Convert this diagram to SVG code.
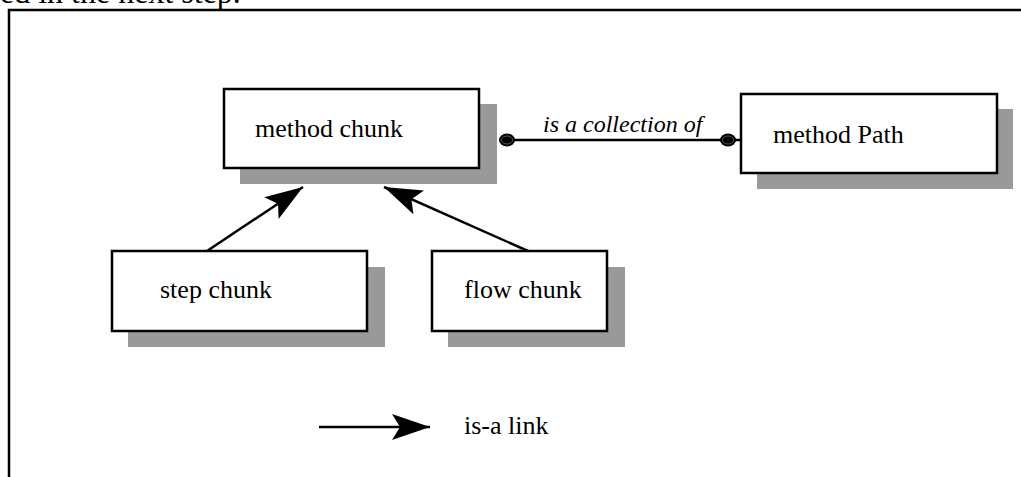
<svg xmlns="http://www.w3.org/2000/svg" width="1021" height="477" viewBox="0 0 1021 477">
  <style>
    .box { fill: #ffffff; stroke: #000000; stroke-width: 2.5; }
    .shadow { fill: #999999; }
    .lbl { font-family: "Liberation Serif", "Times New Roman", serif; font-size: 26px; fill: #000000; }
    .rel { font-family: "Liberation Serif", "Times New Roman", serif; font-size: 24px; font-style: italic; fill: #000000; }
    .body { font-family: "Liberation Serif", "Times New Roman", serif; font-size: 32px; fill: #000000; }
    .edge { stroke: #000000; stroke-width: 2.5; fill: none; }
    .frame { stroke: #000000; stroke-width: 2.5; fill: none; }
  </style>
  <defs>
    <marker id="isa" markerUnits="userSpaceOnUse" markerWidth="40" markerHeight="28" refX="38" refY="13" orient="auto">
      <path d="M0,0 L38,13 L0,26 L8,13 Z" fill="#000000"/>
    </marker>
  </defs>

  <rect width="1021" height="477" fill="#ffffff"/>

  <!-- running text above the figure -->
  <text class="body" x="0" y="3">ed in the next step.</text>

  <!-- figure frame -->
  <path class="frame" d="M9,477 L9,10 L1021,10"/>

  <g id="method-chunk">
    <rect class="shadow" x="240" y="104" width="257" height="80"/>
    <rect class="box" x="224" y="89" width="255" height="79"/>
    <text class="lbl" x="255" y="137">method chunk</text>
  </g>

  <g id="method-path">
    <rect class="shadow" x="757" y="109" width="256" height="80"/>
    <rect class="box" x="741" y="94" width="256" height="79"/>
    <text class="lbl" x="773" y="143">method Path</text>
  </g>

  <g id="step-chunk">
    <rect class="shadow" x="128" y="267" width="257" height="80"/>
    <rect class="box" x="112" y="251" width="255" height="80"/>
    <text class="lbl" x="160" y="298">step chunk</text>
  </g>

  <g id="flow-chunk">
    <rect class="shadow" x="448" y="267" width="177" height="80"/>
    <rect class="box" x="432" y="251" width="175" height="80"/>
    <text class="lbl" x="464" y="298">flow chunk</text>
  </g>

  <g id="connectors">
    <!-- is-a links -->
    <line class="edge" x1="207" y1="251" x2="303" y2="187" marker-end="url(#isa)"/>
    <line class="edge" x1="528" y1="251" x2="384" y2="187" marker-end="url(#isa)"/>
    <!-- aggregation link -->
    <line class="edge" x1="507" y1="140" x2="741" y2="140"/>
    <ellipse cx="507" cy="140" rx="8" ry="6.5" fill="#000000"/>
    <ellipse cx="507" cy="140" rx="5.5" ry="4" fill="none" stroke="#555555" stroke-width="1"/>
    <ellipse cx="728" cy="140" rx="8" ry="6.5" fill="#000000"/>
    <ellipse cx="728" cy="140" rx="5.5" ry="4" fill="none" stroke="#555555" stroke-width="1"/>
    <text class="rel" x="543" y="132">is a collection of</text>
  </g>

  <g id="legend">
    <line class="edge" x1="319" y1="427" x2="430" y2="427" marker-end="url(#isa)"/>
    <text class="lbl" x="464" y="434">is-a link</text>
  </g>
</svg>
